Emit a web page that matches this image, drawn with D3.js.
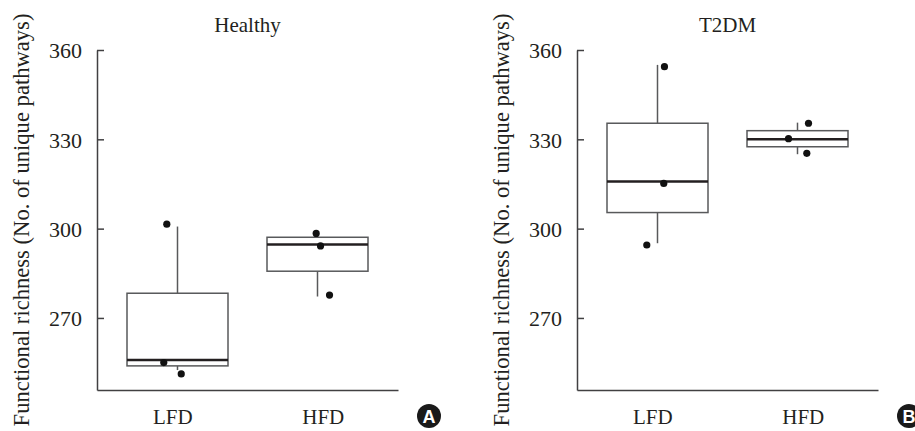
<!DOCTYPE html>
<html>
<head>
<meta charset="utf-8">
<script src="https://cdn.jsdelivr.net/npm/d3@7/dist/d3.min.js"></script>
<style>
  body { margin: 0; background: #fff; }
  svg { display: block; }
  text { font-family: "Liberation Serif", "DejaVu Serif", serif; fill: #231f20; }
</style>
</head>
<body>
<svg id="chart" width="915" height="431"></svg>
<script>
// ---- data ----
const categories = ["LFD", "HFD"];
const panelTitles = ["Healthy", "T2DM"];
const panelBadges = ["A", "B"];
const yTicks = [270, 300, 330, 360];
const yDomain = [245.8, 360];
const yLabel = "Functional richness (No. of unique pathways)";

// box statistics per panel: [min, q1, median, q3, max] for LFD, HFD
const healthyBoxes = [
  [252.5, 253.9, 255.9, 278.3, 300.7],
  [277.2, 285.7, 294.7, 297.1, 297.1]
];
const t2dmBoxes = [
  [295.1, 305.4, 315.8, 335.4, 355.0],
  [325.0, 327.5, 330.0, 332.9, 335.6]
];
// individual samples (jittered): values and horizontal jitter (fraction of box width)
const healthyPoints = [
  [301.5, 255.0, 251.2],
  [298.4, 294.2, 277.7]
];
const healthyJitter = [
  [-0.106, -0.136, 0.037],
  [-0.013, 0.030, 0.119]
];
const t2dmPoints = [
  [354.4, 315.2, 294.5],
  [330.2, 335.4, 325.3]
];
const t2dmJitter = [
  [0.069, 0.062, -0.106],
  [-0.089, 0.109, 0.092]
];

const panels = [
  { title: panelTitles[0], badge: panelBadges[0], boxes: healthyBoxes, points: healthyPoints, jitter: healthyJitter },
  { title: panelTitles[1], badge: panelBadges[1], boxes: t2dmBoxes, points: t2dmPoints, jitter: t2dmJitter }
];

// ---- layout ----
const svg = d3.select("#chart");
const panelOffsets = [97, 577];
const plotW = 301, plotTop = 50, plotBottom = 390;
const boxW = 101;
const fontSize = 21;

const y = d3.scaleLinear().domain(yDomain).range([plotBottom, plotTop]);
const xBox = d3.scalePoint().domain(categories).range([0, plotW]).padding(0.575);
const xLab = d3.scalePoint().domain(categories).range([0, plotW]).padding(0.5);

const lineCol = "#58595b";
const axisCol = "#414042";
const darkCol = "#231f20";

panels.forEach((p, i) => {
  const g = svg.append("g").attr("transform", `translate(${panelOffsets[i]},0)`);

  // y axis label
  svg.append("text")
    .attr("transform", `translate(${panelOffsets[i] - 68.5},${(13 + 427) / 2}) rotate(-90)`)
    .attr("text-anchor", "middle")
    .style("font-size", "22.6px")
    .text(yLabel);

  // title
  g.append("text")
    .attr("x", plotW / 2).attr("y", 31.7)
    .attr("text-anchor", "middle")
    .style("font-size", fontSize + "px")
    .text(p.title);

  // y axis
  const ya = g.append("g").call(
    d3.axisLeft(y).tickValues(yTicks).tickSizeInner(-7).tickSizeOuter(0).tickPadding(15)
  ).attr("font-family", null).attr("font-size", null);
  ya.select(".domain").attr("stroke", axisCol).attr("stroke-width", 1.5);
  ya.selectAll(".tick line").attr("stroke", axisCol).attr("stroke-width", 1.5);
  ya.selectAll(".tick text").style("font-size", "22px")
    .attr("fill", darkCol).attr("dy", "0.36em");

  // x axis
  const xa = g.append("g").attr("transform", `translate(0,${plotBottom})`).call(
    d3.axisBottom(xLab).tickSize(0).tickPadding(19)
  ).attr("font-family", null).attr("font-size", null);
  xa.select(".domain").attr("stroke", axisCol).attr("stroke-width", 1.5);
  xa.selectAll(".tick text").style("font-size", fontSize + "px").attr("fill", darkCol);

  // boxes
  categories.forEach((c, j) => {
    const [mn, q1, md, q3, mx] = p.boxes[j];
    const cx = xBox(c);
    // whiskers
    g.append("line").attr("x1", cx).attr("x2", cx).attr("y1", y(q3)).attr("y2", y(mx))
      .attr("stroke", lineCol).attr("stroke-width", 1.5);
    g.append("line").attr("x1", cx).attr("x2", cx).attr("y1", y(q1)).attr("y2", y(mn))
      .attr("stroke", lineCol).attr("stroke-width", 1.5);
    // box
    g.append("rect").attr("x", cx - boxW / 2).attr("width", boxW)
      .attr("y", y(q3)).attr("height", y(q1) - y(q3))
      .attr("fill", "#fff").attr("stroke", lineCol).attr("stroke-width", 1.5);
    // median
    g.append("line").attr("x1", cx - boxW / 2).attr("x2", cx + boxW / 2)
      .attr("y1", y(md)).attr("y2", y(md))
      .attr("stroke", darkCol).attr("stroke-width", 2.5);
    // points
    g.selectAll(null).data(p.points[j]).enter().append("circle")
      .attr("cx", (d, k) => cx + p.jitter[j][k] * boxW)
      .attr("cy", d => y(d))
      .attr("r", 3.6)
      .attr("fill", "#111");
  });

  // badge
  const bx = panelOffsets[i] + 332, by = 416;
  svg.append("circle").attr("cx", bx).attr("cy", by).attr("r", 12).attr("fill", "#1a1a1a");
  svg.append("text").attr("x", bx).attr("y", by + 6.5)
    .attr("text-anchor", "middle")
    .style("font-family", "Liberation Sans, Arial, sans-serif")
    .style("font-weight", "bold").style("font-size", "18px")
    .style("fill", "#fff")
    .text(p.badge);
});
</script>
</body>
</html>
